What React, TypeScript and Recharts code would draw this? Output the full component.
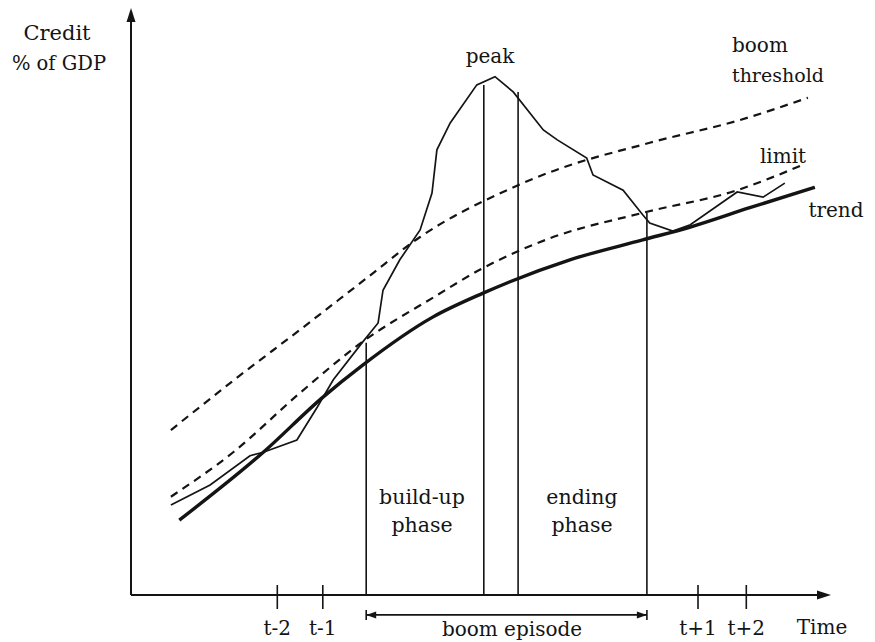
import { ComposedChart, Line, XAxis, YAxis, ReferenceLine } from 'recharts'

// time runs 0..100 along the axis, credit (% of GDP) 0..100 up the axis
const trend = [
  { x: 6.9, y: 12.8 }, { x: 18.9, y: 24.4 }, { x: 27.3, y: 33.7 }, { x: 33.1, y: 39.3 },
  { x: 43.1, y: 47.5 }, { x: 50.3, y: 51.6 }, { x: 62.7, y: 57.3 }, { x: 73.1, y: 60.7 },
  { x: 79.9, y: 62.9 }, { x: 88.4, y: 66.2 }, { x: 97.7, y: 69.7 },
]

const credit = [
  { x: 5.7, y: 15.4 }, { x: 11.3, y: 18.8 }, { x: 17.0, y: 23.8 }, { x: 18.9, y: 24.4 },
  { x: 23.7, y: 26.5 }, { x: 26.6, y: 32.1 }, { x: 28.9, y: 36.8 }, { x: 33.0, y: 43.1 },
  { x: 35.3, y: 46.5 }, { x: 36.0, y: 52.1 }, { x: 38.4, y: 57.3 }, { x: 41.3, y: 62.4 },
  { x: 43.0, y: 68.7 }, { x: 43.7, y: 76.1 }, { x: 45.6, y: 80.7 }, { x: 49.4, y: 87.2 },
  { x: 52.0, y: 88.6 }, { x: 54.6, y: 86.0 }, { x: 58.9, y: 79.5 }, { x: 60.9, y: 77.8 },
  { x: 65.1, y: 74.7 }, { x: 66.0, y: 71.8 }, { x: 70.3, y: 69.2 }, { x: 73.1, y: 65.0 },
  { x: 74.1, y: 63.6 }, { x: 77.4, y: 62.2 }, { x: 79.9, y: 63.3 }, { x: 86.6, y: 68.9 },
  { x: 90.3, y: 68.0 }, { x: 93.4, y: 70.4 },
]

const limit = [
  { x: 5.7, y: 16.8 }, { x: 14.6, y: 24.4 }, { x: 24.1, y: 34.5 }, { x: 33.1, y: 43.3 },
  { x: 43.1, y: 50.8 }, { x: 50.3, y: 55.9 }, { x: 59.9, y: 61.0 }, { x: 73.0, y: 65.3 },
  { x: 86.6, y: 69.2 }, { x: 95.9, y: 73.5 },
]

const threshold = [
  { x: 5.7, y: 28.2 }, { x: 15.1, y: 37.1 }, { x: 24.1, y: 45.3 }, { x: 33.7, y: 54.2 },
  { x: 41.3, y: 61.2 }, { x: 53.7, y: 69.2 }, { x: 59.9, y: 72.3 }, { x: 74.1, y: 77.3 },
  { x: 87.0, y: 81.2 }, { x: 96.7, y: 85.0 },
]

const tickTimes = [20.9, 27.4, 81.0, 87.9]
const tickLabels = ['t-2', 't-1', 't+1', 't+2']

// start of build-up, the two peak marks, end of ending phase
const phaseTimes = [33.6, 50.4, 55.3, 73.7]
const phaseTops = [43.1, 87.2, 86.0, 65.3]

const INK = '#141414'
const FONT = '"DejaVu Serif", "Liberation Serif", "Times New Roman", serif'
const EPISODE_Y = -3.4

function TimeTick(props: any) {
  const { x, y, payload } = props
  const i = tickTimes.indexOf(payload.value)
  return (
    <g>
      <line x1={x} y1={y - 10} x2={x} y2={y + 14} stroke={INK} strokeWidth={1.6} />
      <text x={x} y={y + 40} textAnchor="middle" style={{ fontFamily: FONT }} fontSize={20} fill={INK}>
        {tickLabels[i]}
      </text>
    </g>
  )
}

function XAxisArrow(p: any) {
  const right = Math.max(p.x1, p.x2)
  const left = Math.min(p.x1, p.x2)
  return (
    <g>
      <line x1={left} y1={p.y1} x2={right - 4} y2={p.y2} stroke={INK} strokeWidth={2} />
      <path d={`M${right},${p.y2} l-14,-4.5 l0,9 z`} fill={INK} />
    </g>
  )
}

function YAxisArrow(p: any) {
  const top = Math.min(p.y1, p.y2)
  const bottom = Math.max(p.y1, p.y2)
  return (
    <g>
      <line x1={p.x1} y1={top + 4} x2={p.x1} y2={bottom} stroke={INK} strokeWidth={2} />
      <path d={`M${p.x1},${top - 2} l-4.5,14 l9,0 z`} fill={INK} />
    </g>
  )
}

function EpisodeArrow(p: any) {
  const l = Math.min(p.x1, p.x2)
  const r = Math.max(p.x1, p.x2)
  const y = p.y1
  return (
    <g stroke={INK} fill={INK}>
      <line x1={l} y1={y} x2={r} y2={y} strokeWidth={1.6} />
      <line x1={l} y1={y - 5} x2={l} y2={y + 5} strokeWidth={1.6} />
      <line x1={r} y1={y - 5} x2={r} y2={y + 5} strokeWidth={1.6} />
      <path d={`M${l},${y} l10,-3.5 l0,7 z`} stroke="none" />
      <path d={`M${r},${y} l-10,-3.5 l0,7 z`} stroke="none" />
    </g>
  )
}

const labels = [
  { t: 'Credit', x: 57, y: 40, a: 'middle', s: 21 },
  { t: '% of GDP', x: 59, y: 70, a: 'middle', s: 19.5 },
  { t: 'peak', x: 490, y: 63, a: 'middle', s: 20 },
  { t: 'boom', x: 732, y: 52, a: 'start', s: 20 },
  { t: 'threshold', x: 732, y: 82, a: 'start', s: 19 },
  { t: 'limit', x: 783, y: 163, a: 'middle', s: 20 },
  { t: 'trend', x: 836, y: 217, a: 'middle', s: 20 },
  { t: 'build-up', x: 422, y: 504, a: 'middle', s: 20.5 },
  { t: 'phase', x: 422, y: 532, a: 'middle', s: 20.5 },
  { t: 'ending', x: 582, y: 504, a: 'middle', s: 20.5 },
  { t: 'phase', x: 582, y: 532, a: 'middle', s: 20.5 },
  { t: 'Time', x: 822, y: 634, a: 'middle', s: 20 },
  { t: 'boom episode', x: 512, y: 636, a: 'middle', s: 20 },
]

export default function App() {
  return (
    <div style={{ position: 'absolute', left: 0, top: 0, width: 875, height: 642, background: '#fff' }}>
      <ComposedChart width={875} height={642} margin={{ top: 10, right: 44, bottom: 17, left: 131 }}>
        <XAxis
          dataKey="x"
          type="number"
          domain={[0, 100]}
          ticks={tickTimes}
          interval={0}
          axisLine={false}
          tickLine={false}
          tickSize={0}
          tickMargin={0}
          height={30}
          tick={<TimeTick />}
        />
        <YAxis type="number" domain={[0, 100]} hide />

        <ReferenceLine y={0} shape={<XAxisArrow />} ifOverflow="visible" />
        <ReferenceLine x={0} shape={<YAxisArrow />} ifOverflow="visible" />

        {phaseTimes.map((t, i) => (
          <ReferenceLine
            key={i}
            segment={[{ x: t, y: 0 }, { x: t, y: phaseTops[i] }]}
            stroke={INK}
            strokeWidth={1.6}
            ifOverflow="visible"
          />
        ))}
        <ReferenceLine
          segment={[{ x: phaseTimes[0], y: EPISODE_Y }, { x: phaseTimes[3], y: EPISODE_Y }]}
          shape={<EpisodeArrow />}
          ifOverflow="visible"
        />

        <Line data={threshold} dataKey="y" type="monotone" stroke={INK} strokeWidth={2.2} strokeDasharray="8 6" dot={false} isAnimationActive={false} />
        <Line data={limit} dataKey="y" type="monotone" stroke={INK} strokeWidth={2.2} strokeDasharray="8 6" dot={false} isAnimationActive={false} />
        <Line data={trend} dataKey="y" type="monotone" stroke={INK} strokeWidth={3.4} dot={false} isAnimationActive={false} />
        <Line data={credit} dataKey="y" type="linear" stroke={INK} strokeWidth={1.7} dot={false} isAnimationActive={false} />

        {labels.map((l, i) => (
          <text key={i} x={l.x} y={l.y} textAnchor={l.a as any} style={{ fontFamily: FONT }} fontSize={l.s} fill={INK}>
            {l.t}
          </text>
        ))}
      </ComposedChart>
    </div>
  )
}
